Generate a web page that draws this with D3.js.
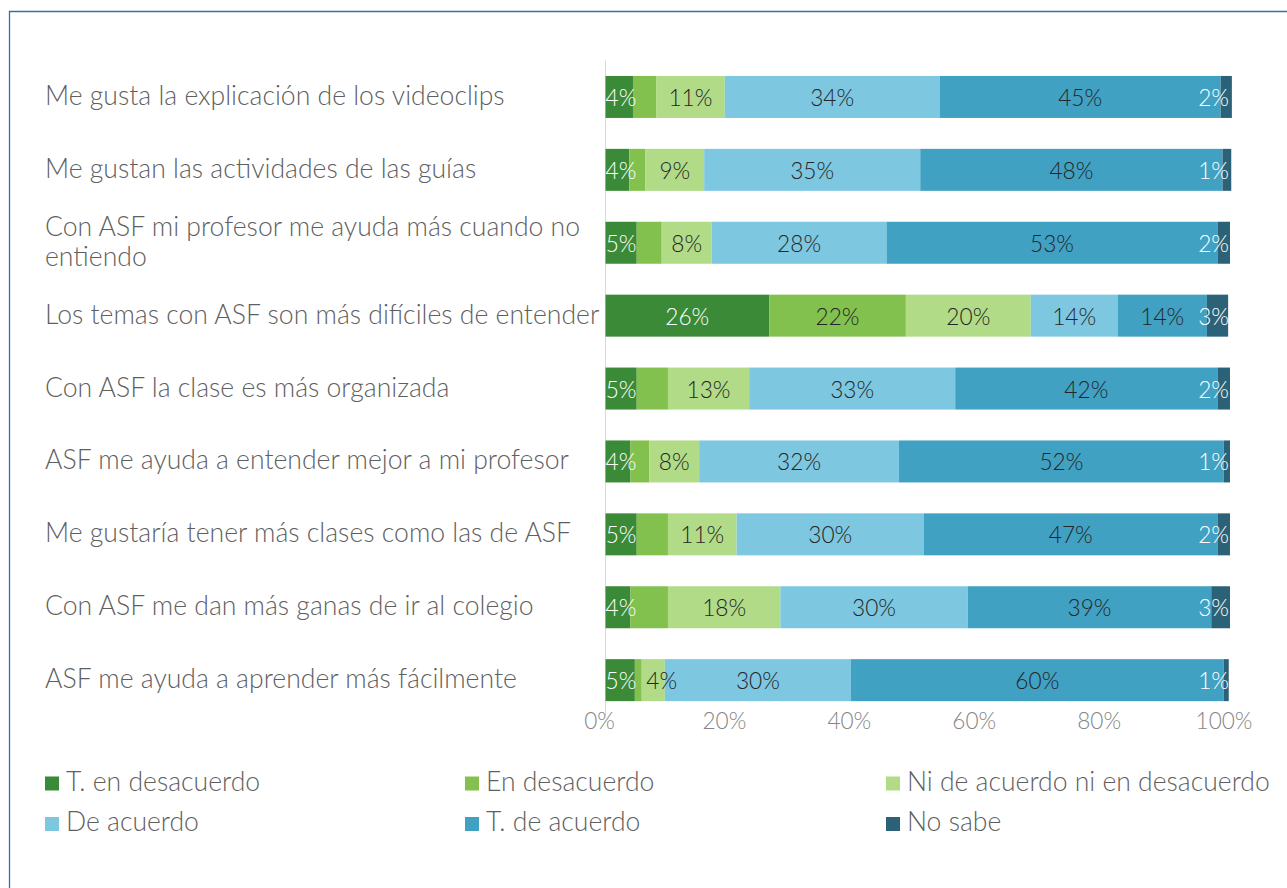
<!DOCTYPE html>
<html><head><meta charset="utf-8">
<script src="https://cdn.jsdelivr.net/npm/d3@7"></script>
<style>html,body{margin:0;padding:0;background:#fff;} svg{display:block;}</style>
</head><body>
<svg id="chart" width="1287" height="888"></svg>
<script>
// ---- data ----
const categories = [
  "Me gusta la explicación de los videoclips",
  "Me gustan las actividades de las guías",
  "Con ASF mi profesor me ayuda más cuando no entiendo",
  "Los temas con ASF son más difíciles de entender",
  "Con ASF la clase es más organizada",
  "ASF me ayuda a entender mejor a mi profesor",
  "Me gustaría tener más clases como las de ASF",
  "Con ASF me dan más ganas de ir al colegio",
  "ASF me ayuda a aprender más fácilmente"
];
const seriesNames = ["T. en desacuerdo","En desacuerdo","Ni de acuerdo ni en desacuerdo","De acuerdo","T. de acuerdo","No sabe"];
const tEnDesacuerdo = [4.4, 3.8, 5, 26.2, 5, 4, 5, 4, 4.7];
const enDesacuerdo  = [3.7, 2.6, 4, 21.9, 5, 3, 5, 6, 1.1];
const niNi          = [11.0, 9.4, 8, 20.0, 13, 8, 11, 18, 3.7];
const deAcuerdo     = [34.4, 34.6, 28, 13.9, 33, 32, 30, 30, 29.8];
const tDeAcuerdo    = [45.0, 48.4, 53, 14.3, 42, 52, 47, 39, 59.7];
const noSabe        = [1.8, 1.4, 2, 3.4, 2, 1, 2, 3, 0.8];
const tickValues = [0, 20, 40, 60, 80, 100];
const colors = ["#3a8a37","#83c14f","#b1db87","#7dc7e1","#40a1c3","#2b6277"];

const seriesValues = [tEnDesacuerdo, enDesacuerdo, niNi, deAcuerdo, tDeAcuerdo, noSabe];
const rows = categories.map((c,i)=>{
  const o = {cat:c};
  seriesNames.forEach((s,j)=>o[s]=seriesValues[j][i]);
  return o;
});

const FONT = "Lato, 'Open Sans', 'DejaVu Sans', sans-serif";
const W8 = 300;
const svg = d3.select("#chart");

// frame
svg.append("path").attr("d","M9.5,1000 L9.5,11.5 L1300,11.5")
  .attr("fill","none").attr("stroke","#3470b5").attr("stroke-width",1.3);

const x = d3.scaleLinear().domain([0,100]).range([605.5,1230]);
const y = d3.scaleBand().domain(categories).range([60.5,716.6]).paddingInner(0.424).paddingOuter(0.212);

function fitSize(text, target){
  const t = svg.append("text").attr("font-family",FONT).attr("font-size",20).attr("font-weight",W8).text(text);
  const w = t.node().getComputedTextLength();
  t.remove();
  return 20*target/w;
}
const catSize = fitSize("Me gusta la explicación de los videoclips", 460);
const legSize = fitSize("Ni de acuerdo ni en desacuerdo", 363);
const tickSize = fitSize("100%", 57);
const lblSize = fitSize("34%", 44);

// axis line
svg.append("line").attr("x1",x(0)).attr("x2",x(0)).attr("y1",y.range()[0]).attr("y2",y.range()[1])
  .attr("stroke","#d9d9d9").attr("stroke-width",1);

// bars
const stack = d3.stack().keys(seriesNames)(rows);
const g = svg.append("g");
stack.forEach((layer,j)=>{
  g.selectAll(null).data(layer).enter().append("rect")
    .attr("x",d=>x(d[0])).attr("width",d=>x(d[1])-x(d[0]))
    .attr("y",d=>y(d.data.cat)).attr("height",y.bandwidth())
    .attr("fill",colors[j]);
});

// data labels
const lg = svg.append("g").attr("font-family",FONT).attr("font-size",lblSize).attr("font-weight",W8);
rows.forEach((r,i)=>{
  let prevRight = -Infinity;
  stack.forEach((layer,j)=>{
    const d = layer[i];
    const v = d[1]-d[0];
    if (j===1 && v<10) return;
    const t = lg.append("text").text(Math.round(v)+"%")
      .attr("fill",(j===0||j===5)?"#ffffff":"#262626");
    const w = t.node().getComputedTextLength();
    let cx = (x(d[0])+x(d[1]))/2;
    let left = cx - w/2;
    if (left < x(0)) left = x(0);
    if (left < prevRight + 10) left = prevRight + 10;
    if (left + w > x(100) - 1) left = x(100) - 1 - w;
    t.attr("x",left).attr("y",y(r.cat)+y.bandwidth()/2+9);
    prevRight = left + w;
  });
});

// category labels
const cg = svg.append("g").attr("font-family",FONT).attr("font-size",catSize).attr("font-weight",W8).attr("fill","#5f5f5f");
categories.forEach(c=>{
  const cy = y(c)+y.bandwidth()/2;
  const t = cg.append("text").attr("x",45);
  t.text(c);
  if (t.node().getComputedTextLength() > 600) {
    const words = c.split(" ");
    const l1 = words.slice(0, words.length-1).join(" ");
    const l2 = words[words.length-1];
    t.text(null);
    t.append("tspan").attr("x",45).attr("y",cy-7).text(l1);
    t.append("tspan").attr("x",45).attr("y",cy+23).text(l2);
  } else {
    t.attr("y",cy+8);
  }
});

// x axis
const ax = svg.append("g")
  .call(d3.axisBottom(x).tickValues(tickValues).tickFormat(d=>d+"%").tickSize(0));
ax.select(".domain").remove();
ax.selectAll("text").attr("font-family",FONT).attr("font-size",tickSize).attr("font-weight",W8).attr("fill","#858585")
  .attr("dy",null).attr("y",729).attr("dx",-6.5);

// legend
const legX = [45, 465, 886];
const legY = [790.5, 831];
const leg = svg.append("g").attr("font-family",FONT).attr("font-size",legSize).attr("font-weight",W8).attr("fill","#5f5f5f");
seriesNames.forEach((s,j)=>{
  const lx = legX[j%3], ly = legY[Math.floor(j/3)];
  leg.append("rect").attr("x",lx).attr("y",ly-14).attr("width",14).attr("height",14).attr("fill",colors[j]);
  leg.append("text").attr("x",lx+21).attr("y",ly).text(s);
});
</script>
</body></html>
